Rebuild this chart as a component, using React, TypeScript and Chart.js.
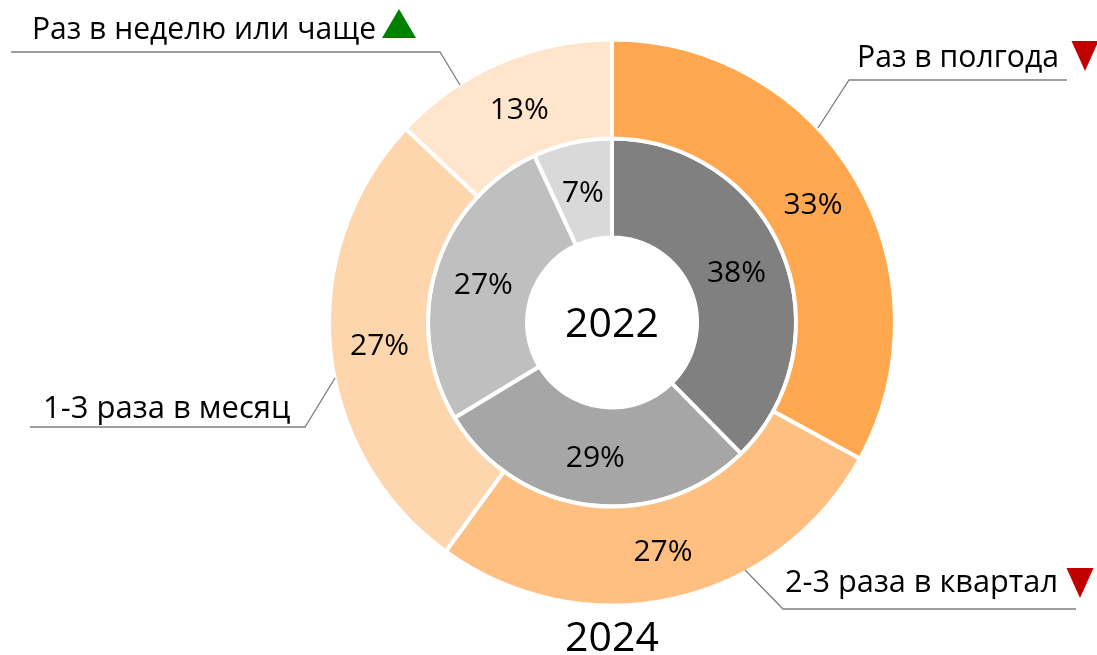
import React, { useEffect, useRef } from "react";
import { Chart, registerables } from "chart.js";

Chart.register(...registerables);

// ---- data ----
const categories = [
  "Раз в полгода",
  "2-3 раза в квартал",
  "1-3 раза в месяц",
  "Раз в неделю или чаще",
];
const seriesNames = ["2024", "2022"];
const values2024 = [33, 27, 27, 13];
const values2022 = [38, 29, 27, 7];
const trends = ["down", "down", "none", "up"];

// ---- styles ----
const colors2024 = ["#FFA84F", "#FFBF80", "#FED6AE", "#FFE5CB"];
const colors2022 = ["#808080", "#A6A6A6", "#BFBFBF", "#D9D9D9"];
const FONT = '"Open Sans", "DejaVu Sans", sans-serif';
const W = 1097;
const H = 655;

// callout layout (label position, max width, leader line path, trend marker)
const calloutLayout = [
  { x: 857, y: 67, maxW: 202, line: [[1067, 80], [849, 80], [818, 128]], tri: { cx: 1085, top: 41, w: 27, h: 30 } },
  { x: 785, y: 592, maxW: 273, line: [[1076, 609], [783, 609], [745, 570]], tri: { cx: 1080, top: 568, w: 27, h: 30 } },
  { x: 43, y: 418, maxW: 248, line: [[30, 427], [305, 427], [335, 378]], tri: null },
  { x: 32, y: 39, maxW: 344, line: [[11, 52], [440, 52], [460, 85]], tri: { cx: 399, top: 9, w: 34, h: 29 } },
];

const overlayPlugin = {
  id: "overlay",
  afterDatasetsDraw(chart: any) {
    const ctx = chart.ctx as CanvasRenderingContext2D;
    ctx.save();
    // percentage labels
    ctx.fillStyle = "#000";
    ctx.textAlign = "center";
    ctx.textBaseline = "alphabetic";
    const pctSize = 30;
    ctx.font = `${pctSize}px ${FONT}`;
    chart.data.datasets.forEach((ds: any, di: number) => {
      const meta = chart.getDatasetMeta(di);
      meta.data.forEach((arc: any, i: number) => {
        const p = arc.tooltipPosition();
        ctx.fillText(Math.round(ds.data[i]) + "%", p.x, p.y + pctSize * 0.357);
      });
    });

    // center and bottom series names
    const meta0 = chart.getDatasetMeta(0);
    const a0 = meta0.data[0];
    const cx = a0.x;
    const cy = a0.y;
    const yrSize = 41;
    ctx.font = `${yrSize}px ${FONT}`;
    ctx.fillText(seriesNames[1], cx, cy + yrSize * 0.357);
    ctx.fillText(seriesNames[0], cx, 651);

    // callouts
    ctx.font = `31px ${FONT}`;
    ctx.textAlign = "left";
    categories.forEach((name, i) => {
      const L = calloutLayout[i];
      ctx.strokeStyle = "#7F7F7F";
      ctx.lineWidth = 1.3;
      ctx.beginPath();
      L.line.forEach((pt, k) => (k === 0 ? ctx.moveTo(pt[0], pt[1]) : ctx.lineTo(pt[0], pt[1])));
      ctx.stroke();
      ctx.fillStyle = "#000";
      ctx.fillText(name, L.x, L.y, L.maxW);
      const t = L.tri;
      if (t && trends[i] !== "none") {
        ctx.beginPath();
        if (trends[i] === "up") {
          ctx.fillStyle = "#008000";
          ctx.moveTo(t.cx, t.top);
          ctx.lineTo(t.cx + t.w / 2, t.top + t.h);
          ctx.lineTo(t.cx - t.w / 2, t.top + t.h);
        } else {
          ctx.fillStyle = "#C00000";
          ctx.moveTo(t.cx - t.w / 2, t.top);
          ctx.lineTo(t.cx + t.w / 2, t.top);
          ctx.lineTo(t.cx, t.top + t.h);
        }
        ctx.closePath();
        ctx.fill();
      }
    });
    ctx.restore();
  },
};

export default function App() {
  const ref = useRef<HTMLCanvasElement | null>(null);
  useEffect(() => {
    if (!ref.current) return;
    const bw = 4;
    const outerVisible = 281;
    const outerR = outerVisible + bw / 2;
    const size = outerR * 2 + bw;
    const cx = 612;
    const cy = 322.5;
    const left = cx - size / 2;
    const top = cy - size / 2;
    const chart = new Chart(ref.current, {
      type: "doughnut",
      data: {
        labels: categories,
        datasets: [
          {
            label: seriesNames[0],
            data: values2024,
            backgroundColor: colors2024,
            borderColor: "#FFFFFF",
            borderWidth: bw,
            hoverBorderWidth: bw,
            hoverOffset: 0,
            offset: 0,
          },
          {
            label: seriesNames[1],
            data: values2022,
            backgroundColor: colors2022,
            borderColor: "#FFFFFF",
            borderWidth: bw,
            hoverBorderWidth: bw,
            hoverOffset: 0,
            offset: 0,
          },
        ],
      },
      options: {
        responsive: false,
        animation: false,
        cutout: `${((85 / outerR) * 100).toFixed(3)}%`,
        layout: {
          padding: { left, top, right: W - left - size, bottom: H - top - size },
        },
        plugins: {
          legend: { display: false },
          tooltip: { enabled: false },
          title: { display: false },
        },
        events: [],
      },
      plugins: [overlayPlugin],
    });
    return () => chart.destroy();
  }, []);
  return (
    <div style={{ position: "fixed", left: 0, top: 0, width: W, height: H, background: "#fff" }}>
      <canvas ref={ref} width={W} height={H} style={{ width: W, height: H, display: "block" }} />
    </div>
  );
}
